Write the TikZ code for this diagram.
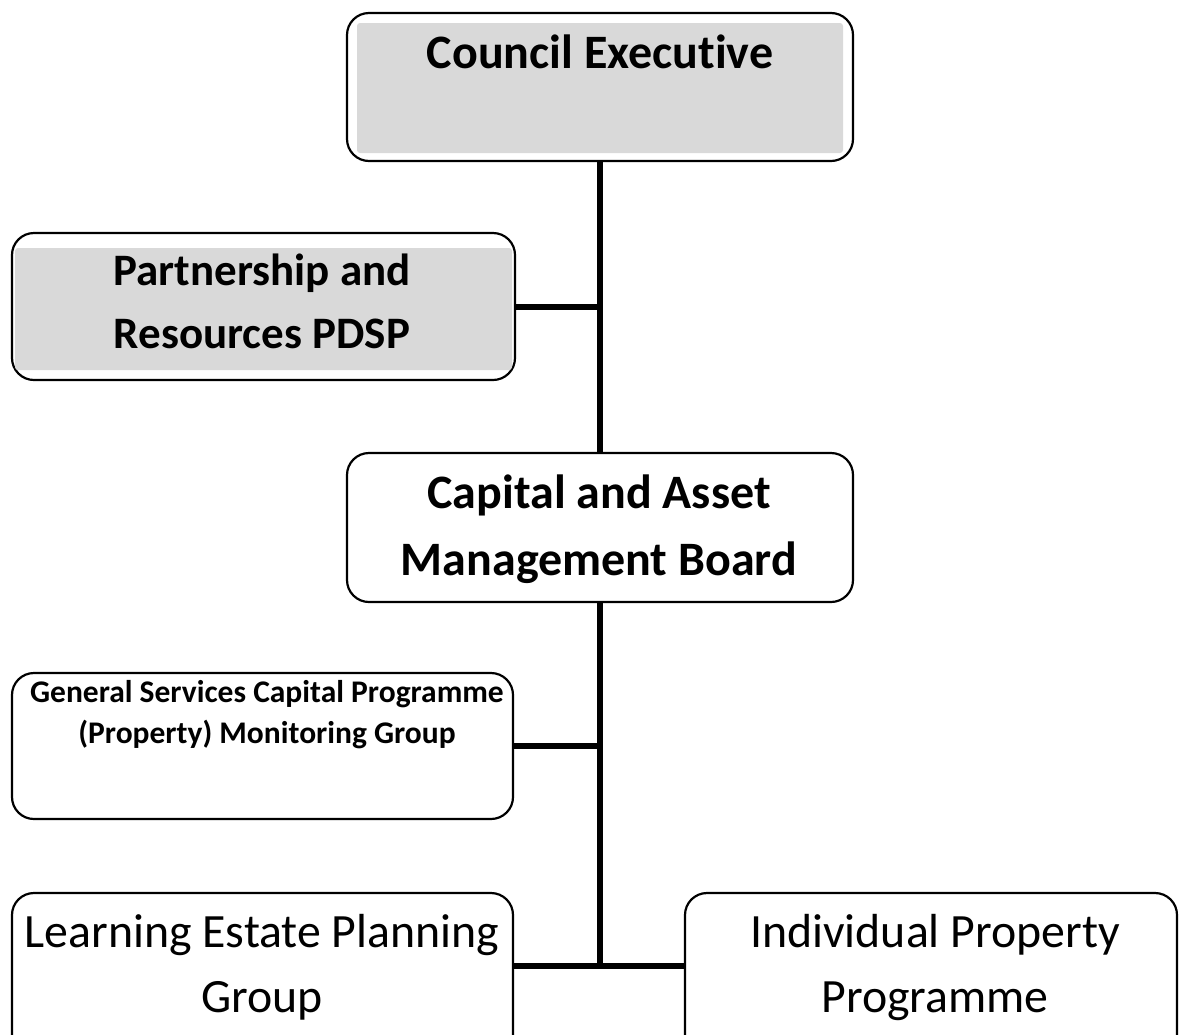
\documentclass[tikz,border=0pt]{standalone}
\usepackage{fontspec}
\setmainfont{Carlito}[Ligatures={NoCommon}]
\begin{document}
\begin{tikzpicture}[x=1pt,y=-1pt]
\useasboundingbox (0,0) rectangle (1182,1034);
\clip (0,0) rectangle (1182,1034);
\definecolor{boxgray}{HTML}{D9D9D9}
\tikzset{
  box/.style={draw, line width=2.2pt, rounded corners=22pt, fill=white, inner sep=0pt, outer sep=0pt, anchor=north west},
  conn/.style={line width=5.5pt},
  grayfill/.style={fill=boxgray, rounded corners=3pt},
  big/.style={anchor=base, inner sep=0pt, font=\fontsize{48}{56}\selectfont\bfseries},
  mid/.style={anchor=base, inner sep=0pt, font=\fontsize{45}{52}\selectfont\bfseries},
  small/.style={anchor=base, inner sep=0pt, font=\fontsize{31.5}{37}\selectfont\bfseries},
  reg/.style={anchor=base, inner sep=0pt, font=\fontsize{47.8}{56}\selectfont},
}
% boxes
\node[box, minimum width=506pt, minimum height=148pt] (ce) at (347,13) {};
\fill[grayfill] (357,23) rectangle (843,153);
\node[box, minimum width=503pt, minimum height=147pt] (pr) at (12,233) {};
\fill[grayfill] (15,248) rectangle (512,370);
\node[box, minimum width=506pt, minimum height=149pt] (cam) at (347,453) {};
\node[box, minimum width=501pt, minimum height=146pt] (gs) at (12,673) {};
\node[box, minimum width=501pt, minimum height=180pt] (le) at (12,893) {};
\node[box, minimum width=492pt, minimum height=180pt] (ip) at (685,893) {};
% connectors
\coordinate (j1) at (600,307);
\coordinate (j2) at (600,746);
\coordinate (j3) at (600,966);
\draw[conn] (ce.south -| j1) -- (cam.north -| j1);
\draw[conn] (pr.east |- j1) -- (j1);
\draw[conn] (cam.south -| j2) -- ([yshift=2.75pt]j3);
\draw[conn] (gs.east |- j2) -- (j2);
\draw[conn] (le.east |- j3) -- (ip.west |- j3);
% texts
\node[big] (cet) at (600,68) {Council Executive};
\node[mid] (prt1) at (262,285) {Partnership and};
\node[mid] (prt2) at (262,348) {Resources PDSP};
\node[big] (camt1) at (599,508) {Capital and Asset};
\node[big] (camt2) at (599,575) {Management Board};
\node[small] (gst1) at (267,702) {General Services Capital Programme};
\node[small] (gst2) at (267,743) {(Property) Monitoring Group};
\node[reg] (let1) at (262,947) {Learning Estate Planning};
\node[reg] (let2) at (262,1012) {Group};
\node[reg] (ipt1) at (935,947) {Individual Property};
\node[reg] (ipt2) at (935,1012) {Programme};
\end{tikzpicture}
\end{document}
